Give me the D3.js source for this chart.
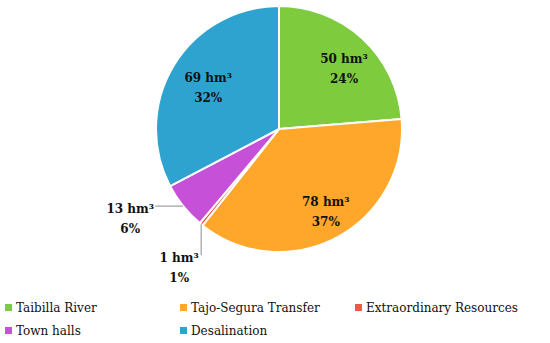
<!DOCTYPE html>
<html lang="en">
<head>
<meta charset="UTF-8">
<title>Water resources pie</title>
<script src="https://d3js.org/d3.v7.min.js"></script>
<style>
    body { margin: 0; background: #fff; }
    .lbl, .leg { font-family: "DejaVu Serif", "Liberation Serif", serif; }
    .lbl { font-weight: bold; font-size: 12px; fill: #111; }
    .leg { font-size: 12px; fill: #111; }
</style>
</head>
<body>
<svg id="chart" width="550" height="343"></svg>
<script>
// data
const categories = ["Taibilla River", "Tajo-Segura Transfer", "Extraordinary Resources", "Town halls", "Desalination"];
const volumes = [50, 78, 1, 13, 69];        // hm3
const percents = [24, 37, 1, 6, 32];        // as printed
const colors = ["#7ecc3d", "#ffa72b", "#ee5a3c", "#c650d8", "#2fa3d0"];

const width = 550, height = 343;
const cx = 279, cy = 129, radius = 123;

const svg = d3.select("#chart");
const g = svg.append("g").attr("transform", `translate(${cx},${cy})`);

const pie = d3.pie().sort(null).value(d => d);
const arcs = pie(volumes);

const arc = d3.arc().innerRadius(0).outerRadius(radius);

g.selectAll("path.slice")
    .data(arcs)
    .join("path")
    .attr("class", "slice")
    .attr("d", arc)
    .attr("fill", (d, i) => colors[i])
    .attr("stroke", "#fff")
    .attr("stroke-width", 2)
    .attr("stroke-linejoin", "round");

// label placement: inside slices get centroid at 0.72r, small ones get a leader line
const labelArc = d3.arc().innerRadius(radius * 0.72).outerRadius(radius * 0.72);
const outside = {
    2: { dir: "down", len: 31, dx: -22 },
    3: { dir: "left", len: 28, dx: -25 }
};

arcs.forEach((d, i) => {
    const a = (d.startAngle + d.endAngle) / 2;
    let x, y;
    if (outside[i]) {
        const o = outside[i];
        const px = radius * Math.sin(a), py = -radius * Math.cos(a);
        let ex = px, ey = py;
        if (o.dir === "down") ey = py + o.len; else ex = px - o.len;
        g.append("line")
            .attr("x1", px).attr("y1", py)
            .attr("x2", ex).attr("y2", ey)
            .attr("stroke", "#a6a6a6").attr("stroke-width", 1.3);
        x = ex + o.dx; y = ey + 10;
    } else {
        const c = labelArc.centroid(d);
        x = c[0] + 5; y = c[1] + 2;
    }
    const t = g.append("text").attr("class", "lbl").attr("text-anchor", "middle")
        .attr("x", x).attr("y", y);
    t.append("tspan").attr("x", x).attr("dy", "-0.25em").text(volumes[i] + " hm³");
    t.append("tspan").attr("x", x).attr("dy", "1.65em").text(percents[i] + "%");
});

// legend
const legCols = [5, 180, 355];
const legRows = [312, 335];
const leg = svg.append("g");
categories.forEach((name, i) => {
    const lx = legCols[i % 3], ly = legRows[Math.floor(i / 3)];
    leg.append("rect")
        .attr("x", lx).attr("y", ly - 8)
        .attr("width", 7).attr("height", 7)
        .attr("fill", colors[i]);
    leg.append("text").attr("class", "leg")
        .attr("x", lx + 11).attr("y", ly)
        .text(name);
});
</script>
</body>
</html>
